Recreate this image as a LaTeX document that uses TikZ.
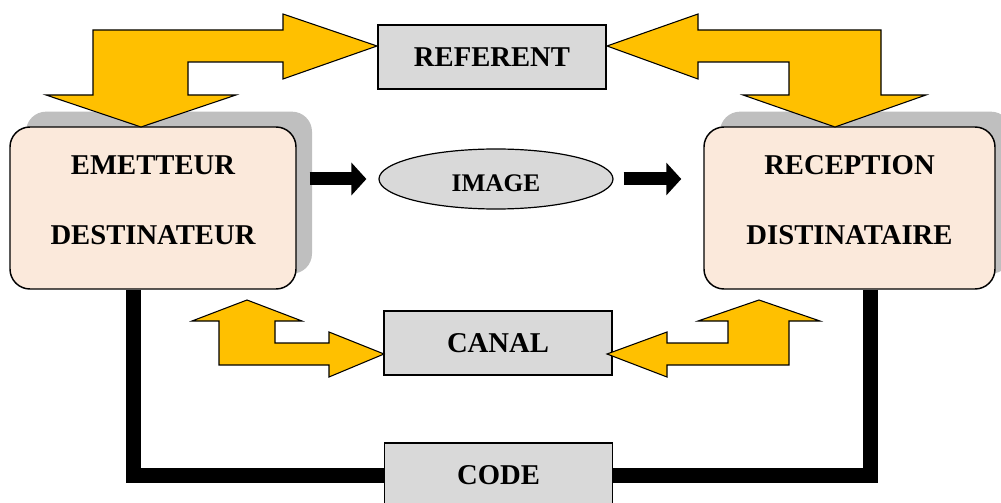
\documentclass[tikz,border=0pt]{standalone}
\usepackage{fontspec}
\setmainfont{Liberation Serif}
\usetikzlibrary{shapes.geometric,shadows,arrows.meta}

\definecolor{gold}{RGB}{255,192,0}
\definecolor{peach}{RGB}{251,233,219}
\definecolor{lightgrey}{RGB}{217,217,217}
\definecolor{shadowgrey}{RGB}{191,191,191}

\begin{document}
\begin{tikzpicture}[x=0.75pt,y=0.75pt,yscale=-1,xscale=1,
  partner/.style={draw, line width=1.1pt, fill=peach, rounded corners=15pt,
    minimum width=214.5pt, minimum height=121.5pt, inner sep=0pt,
    drop shadow={shadow xshift=12pt, shadow yshift=11.5pt, fill=shadowgrey, opacity=1}},
  greybox/.style={draw, line width=0.9pt, fill=lightgrey, minimum width=171pt,
    minimum height=48pt, inner sep=0pt, font=\fontsize{21.5}{25}\selectfont\bfseries},
  boxtext/.style={align=center, inner sep=0pt, font=\fontsize{21.5}{52.5}\selectfont\bfseries},
  goldarrow/.style={draw, line width=0.8pt, fill=gold, line join=miter},
  blockarrow/.style={line width=9.75pt, -{Triangle[width=24pt, length=11.25pt]}},
  codeline/.style={line width=11.25pt}
]
\clip (0,0) rectangle (1001,503);

% Boxes
\draw (153,208) node [partner] (emetteur) {};
\draw (849.5,208) node [partner, minimum width=218.25pt] (reception) {};
\draw (492,57) node [greybox] (referent) {REFERENT};
\draw (498,343) node [greybox] (canal) {CANAL};
\draw (498.5,475) node [greybox] (code) {CODE};
\draw (496,179) node [ellipse, draw, line width=0.9pt, fill=lightgrey, minimum width=175.5pt,
  minimum height=45pt, inner sep=0pt, text height=18pt, text depth=0pt,
  font=\fontsize{19}{22}\selectfont\bfseries] (image) {IMAGE};

% Text Node
\draw (153,200) node [boxtext] (emetteur-txt) {EMETTEUR\\DESTINATEUR};
% Text Node
\draw (849.5,200) node [boxtext] (reception-txt) {RECEPTION\\DISTINATAIRE};

% Code lines
\draw [codeline] ([xshift=93pt]emetteur.south west) |- (code.west);
\draw [codeline] ([xshift=-93.75pt]reception.south east) |- (code.east);

% Message arrows
\draw [blockarrow, shorten <=9.75pt, shorten >=9pt] (emetteur.east |- image.west) -- (image.west);
\draw [blockarrow, shorten <=7.5pt, shorten >=16.5pt] (image.east) -- (reception.west |- image.east);

%Shape: bent arrow emetteur -- referent
\draw [goldarrow] (377,46) -- (283,14) -- (283,30) -- (93,30) -- (93,95) -- (46,95) -- (141,127)
  -- (236,95) -- (188,95) -- (188,62) -- (283,62) -- (283,79) -- cycle ;
%Shape: bent arrow reception -- referent
\draw [goldarrow] (607,46) -- (698,14) -- (698,30) -- (881,30) -- (881,95) -- (926,95) -- (835,127)
  -- (743,95) -- (789,95) -- (789,62) -- (698,62) -- (698,79) -- cycle ;
%Shape: bent arrow emetteur -- canal
\draw [goldarrow] (247,300) -- (302,321) -- (275,321) -- (275,343) -- (329,343) -- (329,332)
  -- (384,354) -- (329,377) -- (329,365) -- (219,365) -- (219,321) -- (192,321) -- cycle ;
%Shape: bent arrow reception -- canal
\draw [goldarrow] (759,300) -- (820,321) -- (789,321) -- (789,365) -- (667,365) -- (667,377)
  -- (607,354) -- (667,332) -- (667,343) -- (728,343) -- (728,321) -- (698,321) -- cycle ;

\end{tikzpicture}
\end{document}
